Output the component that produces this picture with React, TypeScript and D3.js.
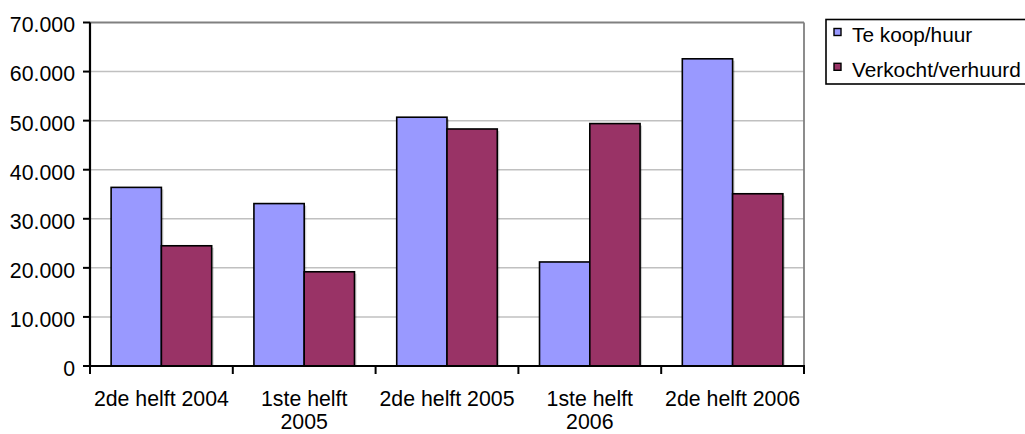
import React from "react";
import * as d3 from "d3";

// Half-year periods on the x axis ("\n" marks a wrapped label line)
const categories: string[] = [
  "2de helft 2004",
  "1ste helft\n2005",
  "2de helft 2005",
  "1ste helft\n2006",
  "2de helft 2006",
];

const seriesNames: string[] = ["Te koop/huur", "Verkocht/verhuurd"];
const seriesColors: string[] = ["#9999FF", "#993366"];

const teKoopHuur: number[] = [36400, 33100, 50700, 21200, 62600];
const verkochtVerhuurd: number[] = [24500, 19200, 48300, 49400, 35100];

const yTicks: number[] = [0, 10000, 20000, 30000, 40000, 50000, 60000, 70000];

const W = 1025;
const H = 434;
const left = 90;
const right = 804;
const top = 22.5;
const bottom = 366;
const FONT = "'Liberation Sans', Arial, sans-serif";
const FS = 21.3;

const fmt = (v: number) =>
  v === 0 ? "0" : d3.format(",")(v).replace(/,/g, ".");

export default function App() {
  const series = [teKoopHuur, verkochtVerhuurd];

  const x0 = d3.scaleBand<string>().domain(categories).range([left, right]).padding(0);
  const x1 = d3
    .scaleBand<number>()
    .domain([0, 1])
    .range([0, x0.bandwidth()])
    .paddingInner(0)
    .paddingOuter(0.42);
  const y = d3.scaleLinear().domain([0, 70000]).range([bottom, top]);

  const bars: React.ReactNode[] = [];
  categories.forEach((c, i) => {
    series.forEach((s, k) => {
      const bx = (x0(c) ?? 0) + (x1(k) ?? 0);
      const by = y(s[i]);
      const bw = x1.bandwidth();
      const bh = y(0) - by;
      bars.push(
        <g key={`${i}-${k}`}>
          <rect x={bx + 2} y={by + 2} width={bw} height={bh - 2} fill="#000" opacity={0.18} />
          <rect x={bx} y={by} width={bw} height={bh} fill={seriesColors[k]} stroke="#000" strokeWidth={1.6} />
        </g>
      );
    });
  });

  return (
    <svg
      width={W}
      height={H}
      style={{ position: "absolute", left: 0, top: 0, background: "#fff" }}
      fontFamily={FONT}
      fontSize={FS}
    >
      <rect x={0} y={0} width={W} height={H} fill="#fff" />

      {/* horizontal gridlines */}
      {yTicks.slice(1, -1).map((t) => (
        <line key={t} x1={left} x2={right} y1={y(t)} y2={y(t)} stroke="#c0c0c0" strokeWidth={1.5} />
      ))}

      {bars}

      {/* plot frame: top and right */}
      <line x1={left} x2={right} y1={top} y2={top} stroke="#808080" strokeWidth={1.8} />
      <line x1={right} x2={right} y1={top} y2={bottom} stroke="#808080" strokeWidth={1.8} />

      {/* y axis */}
      <line x1={left} x2={left} y1={top} y2={bottom + 1} stroke="#000" strokeWidth={2.2} />
      {yTicks.map((t) => (
        <g key={t}>
          <line x1={left - 7} x2={left} y1={y(t)} y2={y(t)} stroke="#000" strokeWidth={2} />
          <text x={75} y={y(t) + 9.9} textAnchor="end" fill="#000">
            {fmt(t)}
          </text>
        </g>
      ))}

      {/* x axis */}
      <line x1={left - 1} x2={right + 1} y1={bottom} y2={bottom} stroke="#000" strokeWidth={2.2} />
      {[...categories.map((c) => x0(c) ?? 0), right].map((tx, i) => (
        <line key={i} x1={tx} x2={tx} y1={bottom} y2={bottom + 8} stroke="#000" strokeWidth={2} />
      ))}
      {categories.map((c) => {
        const cx = (x0(c) ?? 0) + x0.bandwidth() / 2;
        return (
          <text key={c} textAnchor="middle" fill="#000">
            {c.split("\n").map((line, j) => (
              <tspan key={j} x={cx} y={405.5 + j * 23.5}>
                {line}
              </tspan>
            ))}
          </text>
        );
      })}

      {/* legend */}
      <rect x={826} y={19.5} width={210} height={64.5} fill="#fff" stroke="#000" strokeWidth={1.6} />
      {seriesNames.map((n, k) => (
        <g key={n}>
          <rect x={834} y={28.5 + k * 34.8} width={7} height={7} fill={seriesColors[k]} stroke="#000" strokeWidth={1.4} />
          <text x={852} y={42.3 + k * 34.4} fill="#000" fontSize={20.8}>
            {n}
          </text>
        </g>
      ))}
    </svg>
  );
}
